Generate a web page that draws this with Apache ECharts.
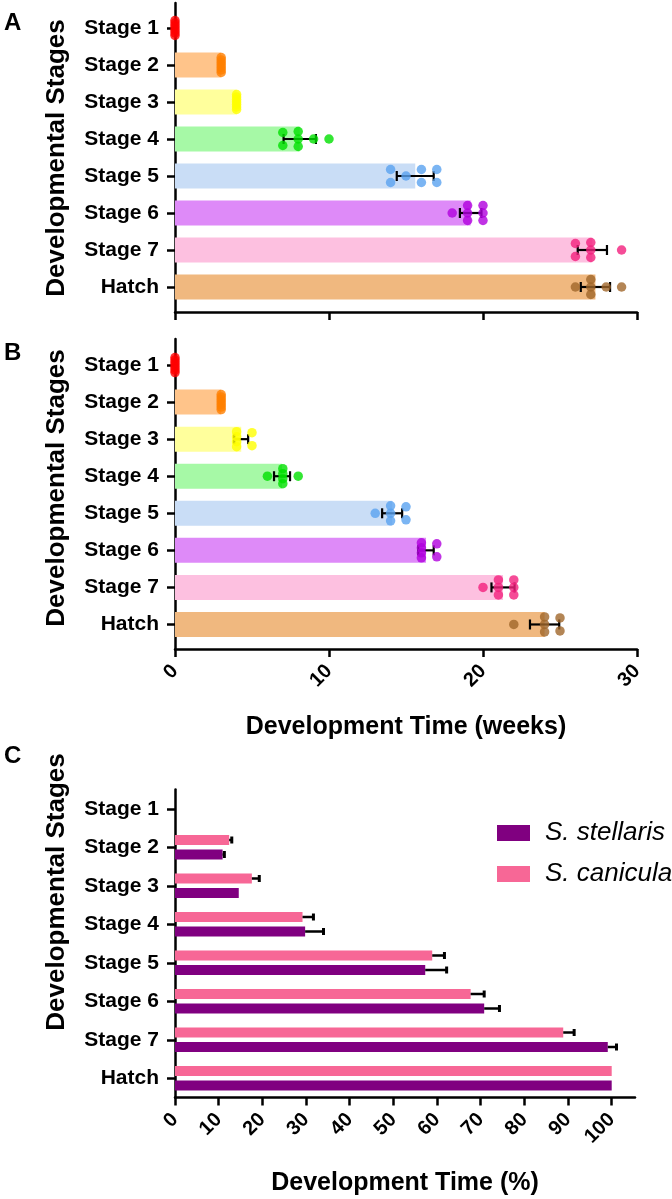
<!DOCTYPE html>
<html><head><meta charset="utf-8">
<script src="https://cdn.jsdelivr.net/npm/echarts@6/dist/echarts.min.js"></script>
<style>html,body{margin:0;padding:0;background:#fff}#c{width:672px;height:1199px}</style>
</head><body><div id="c"></div>
<script>
// ---------- data ----------
const stages = ['Stage 1','Stage 2','Stage 3','Stage 4','Stage 5','Stage 6','Stage 7','Hatch'];
const barColors = ['#ffb0b0','#ffc48a','#ffff9c','#a6f9a6','#c9ddf6','#de8af8','#fdc0e0','#f0b87f'];
const dotColors = ['#ff0000','#ff8000','#ffff00','#00e000','#5aa2f0','#b000dd','#f21f7d','#a0672a'];

// Panel A (S. stellaris) - weeks
const pointsA = [
  [0,0,0,0,0,0,0],
  [3,3,3,3,3,3,3],
  [4,4,4,4,4,4,4],
  [7,7,8,8,8,9,10],
  [14,14,15,16,16,17,17],
  [18,19,19,19,20,20,20],
  [26,26,27,27,27,29],
  [26,27,27,27,28,29]
];
const meansA = [0, 3, 4, 8.1, 15.6, 19.2, 27.1, 27.3];
const sdA    = [0, 0, 0, 1.05, 1.2, 0.7, 0.95, 0.95];

// Panel B (S. canicula) - weeks
const pointsB = [
  [0,0,0,0,0,0,0],
  [3,3,3,3,3,3,3],
  [4,4,4,4,5,5],
  [6,7,7,7,7,8],
  [13,14,14,14,15,15],
  [16,16,16,16,17,17],
  [20,21,21,21,22,22,22],
  [22,24,24,24,25,25]
];
const meansB = [0, 3, 4.3, 6.95, 14.1, 16.3, 21.3, 24.0];
const sdB    = [0, 0, 0.45, 0.52, 0.65, 0.5, 0.75, 0.95];

// Panel C - percent of development time
const speciesNames = ['S. stellaris', 'S. canicula'];
const stellarisPct = [null, 10.9, 14.6, 29.8, 57.3, 70.8, 99.1, 100];
const stellarisErr = [null, 0.4, 0, 4.2, 4.9, 3.5, 2.0, 0];
const caniculaPct  = [null, 12.4, 17.6, 29.2, 58.9, 67.7, 88.9, 100];
const caniculaErr  = [null, 0.6, 1.7, 2.5, 2.8, 3.1, 2.5, 0];
const speciesColors = ['#800080', '#f76796'];

// ---------- helpers ----------
const FONT = '"Liberation Sans", Arial, sans-serif';
const AX = {color:'#000', width:2.5};

function swarm(points) {
  const out = [];
  points.forEach((arr, ci) => {
    const groups = {};
    arr.forEach(v => { (groups[v] = groups[v] || []).push(v); });
    Object.keys(groups).forEach(k => {
      const n = groups[k].length;
      groups[k].forEach((v, i) => {
        let dy = 0;
        if (n === 2) dy = i === 0 ? -6.5 : 6.5;
        else if (n >= 3) dy = -7.5 + 15 * i / (n - 1);
        out.push({value:[v, ci], symbolOffset:[0, dy], itemStyle:{color:dotColors[ci]}});
      });
    });
  });
  return out;
}
function errData(means, sds) {
  return means.map((m, i) => [m - sds[i], m + sds[i], i]).filter((d, i) => sds[i] > 0);
}
function errRender(params, api) {
  const lo = api.value(0), hi = api.value(1), c = api.value(2);
  const p1 = api.coord([lo, c]), p2 = api.coord([hi, c]);
  const h = 5, st = {stroke:'#000', lineWidth:2.2};
  return {type:'group', children:[
    {type:'line', shape:{x1:p1[0], y1:p1[1], x2:p2[0], y2:p2[1]}, style:st},
    {type:'line', shape:{x1:p1[0], y1:p1[1]-h, x2:p1[0], y2:p1[1]+h}, style:st},
    {type:'line', shape:{x1:p2[0], y1:p2[1]-h, x2:p2[0], y2:p2[1]+h}, style:st}
  ]};
}
function errCData(vals, errs) {
  return vals.map((v, i) => [v, v + (errs[i] || 0), i]).filter((d, i) => vals[i] != null && errs[i] > 0);
}
function makeErrC(dy) {
  return function(params, api) {
    const v = api.value(0), hi = api.value(1), c = api.value(2);
    const p1 = api.coord([v, c]), p2 = api.coord([hi, c]);
    const st = {stroke:'#000', lineWidth:2.5};
    return {type:'group', children:[
      {type:'line', shape:{x1:p1[0], y1:p1[1]+dy, x2:p2[0], y2:p2[1]+dy}, style:st},
      {type:'line', shape:{x1:p2[0], y1:p2[1]+dy-3.5, x2:p2[0], y2:p2[1]+dy+3.5}, style:{stroke:'#000', lineWidth:3}}
    ]};
  };
}

const outerX = (showLabels) => ({
  type:'value', min:0, max:30, interval:10,
  axisLine:{show:true, lineStyle:AX},
  axisTick:{show:true, length:8, lineStyle:AX},
  axisLabel:{show:showLabels, rotate:45, margin:19, fontSize:20, fontWeight:'bold', color:'#000', fontFamily:FONT},
  splitLine:{show:false}
});
const outerY = () => ({type:'value', min:0, max:1, axisLine:{show:true, lineStyle:AX},
  axisTick:{show:false}, axisLabel:{show:false}, splitLine:{show:false}});
const catY = (showLine) => ({
  type:'category', data:stages, inverse:true,
  axisLine:{show:showLine, lineStyle:AX},
  axisTick:{show:true, alignWithLabel:true, length:8, lineStyle:AX},
  axisLabel:{fontSize:21, fontWeight:'bold', color:'#000', margin:16, fontFamily:FONT}
});

const option = {
  animation:false,
  backgroundColor:'#fff',
  grid:[
    {left:175, top:3, width:462, height:309},
    {left:175, top:9.5, width:462, height:296},
    {left:175, top:339, width:462, height:310},
    {left:175, top:346.5, width:462, height:296.5},
    {left:175, top:789.5, width:460, height:308},
    {left:175, top:789.5, width:436.7, height:308}
  ],
  xAxis:[
    Object.assign(outerX(false), {gridIndex:0}),
    {gridIndex:1, type:'value', min:0, max:30, show:false},
    Object.assign(outerX(true), {gridIndex:2}),
    {gridIndex:3, type:'value', min:0, max:30, show:false},
    {gridIndex:4, type:'value', min:0, max:1, axisLine:{show:true, lineStyle:AX}, axisTick:{show:false}, axisLabel:{show:false}, splitLine:{show:false}},
    {gridIndex:5, type:'value', min:0, max:100, interval:10,
      axisLine:{show:false}, axisTick:{show:true, length:8, lineStyle:AX},
      axisLabel:{rotate:45, margin:19, fontSize:20, fontWeight:'bold', color:'#000', fontFamily:FONT},
      splitLine:{show:false}}
  ],
  yAxis:[
    Object.assign(outerY(), {gridIndex:0}),
    Object.assign(catY(false), {gridIndex:1}),
    Object.assign(outerY(), {gridIndex:2}),
    Object.assign(catY(false), {gridIndex:3}),
    {gridIndex:4, type:'value', show:false},
    Object.assign(catY(true), {gridIndex:5})
  ],
  legend:{
    orient:'vertical', left:492, top:815, itemWidth:33, itemHeight:16, itemGap:15,
    icon:'rect', data:speciesNames,
    textStyle:{fontSize:26, fontStyle:'italic', color:'#000', fontFamily:FONT, padding:[0,0,0,10]}
  },
  graphic:[
    {type:'text', left:4, top:11, style:{text:'A', font:'bold 24px '+FONT, fill:'#000'}},
    {type:'text', left:4, top:341, style:{text:'B', font:'bold 24px '+FONT, fill:'#000'}},
    {type:'text', left:4, top:744, style:{text:'C', font:'bold 24px '+FONT, fill:'#000'}},
    {type:'text', x:57, y:158, rotation:Math.PI/2, style:{text:'Developmental Stages', font:'bold 26px '+FONT, fill:'#000', textAlign:'center', textVerticalAlign:'middle'}},
    {type:'text', x:57, y:488, rotation:Math.PI/2, style:{text:'Developmental Stages', font:'bold 26px '+FONT, fill:'#000', textAlign:'center', textVerticalAlign:'middle'}},
    {type:'text', x:57, y:892, rotation:Math.PI/2, style:{text:'Developmental Stages', font:'bold 26px '+FONT, fill:'#000', textAlign:'center', textVerticalAlign:'middle'}},
    {type:'text', x:406, y:727, style:{text:'Development Time (weeks)', font:'bold 25px '+FONT, fill:'#000', textAlign:'center', textVerticalAlign:'middle'}},
    {type:'text', x:405, y:1183, style:{text:'Development Time (%)', font:'bold 25px '+FONT, fill:'#000', textAlign:'center', textVerticalAlign:'middle'}}
  ],
  series:[
    {name:'barsA', type:'bar', xAxisIndex:1, yAxisIndex:1, barWidth:25, z:2,
      data:meansA.map((m, i) => ({value:m, itemStyle:{color:barColors[i]}}))},
    {name:'errA', type:'custom', xAxisIndex:1, yAxisIndex:1, z:3, renderItem:errRender,
      encode:{x:[0,1], y:2}, data:errData(meansA, sdA)},
    {name:'dotsA', type:'scatter', xAxisIndex:1, yAxisIndex:1, z:4, symbolSize:9.5, clip:false,
      data:swarm(pointsA)},
    {name:'barsB', type:'bar', xAxisIndex:3, yAxisIndex:3, barWidth:25, z:2,
      data:meansB.map((m, i) => ({value:m, itemStyle:{color:barColors[i]}}))},
    {name:'errB', type:'custom', xAxisIndex:3, yAxisIndex:3, z:3, renderItem:errRender,
      encode:{x:[0,1], y:2}, data:errData(meansB, sdB)},
    {name:'dotsB', type:'scatter', xAxisIndex:3, yAxisIndex:3, z:4, symbolSize:9.5, clip:false,
      data:swarm(pointsB)},
    // canicula listed first so that it sits above stellaris in each band
    {name:speciesNames[1], type:'bar', xAxisIndex:5, yAxisIndex:5, barWidth:10, barGap:'45%',
      itemStyle:{color:speciesColors[1]}, data:caniculaPct},
    {name:speciesNames[0], type:'bar', xAxisIndex:5, yAxisIndex:5, barWidth:10, barGap:'45%',
      itemStyle:{color:speciesColors[0]}, data:stellarisPct},
    {name:'errStellaris', type:'custom', xAxisIndex:5, yAxisIndex:5, z:3, renderItem:makeErrC(7.25),
      encode:{x:[0,1], y:2}, data:errCData(stellarisPct, stellarisErr)},
    {name:'errCanicula', type:'custom', xAxisIndex:5, yAxisIndex:5, z:3, renderItem:makeErrC(-7.25),
      encode:{x:[0,1], y:2}, data:errCData(caniculaPct, caniculaErr)}
  ]
};
const chart = echarts.init(document.getElementById('c'), null, {renderer:'canvas'});
chart.setOption(option);
</script>
</body></html>
